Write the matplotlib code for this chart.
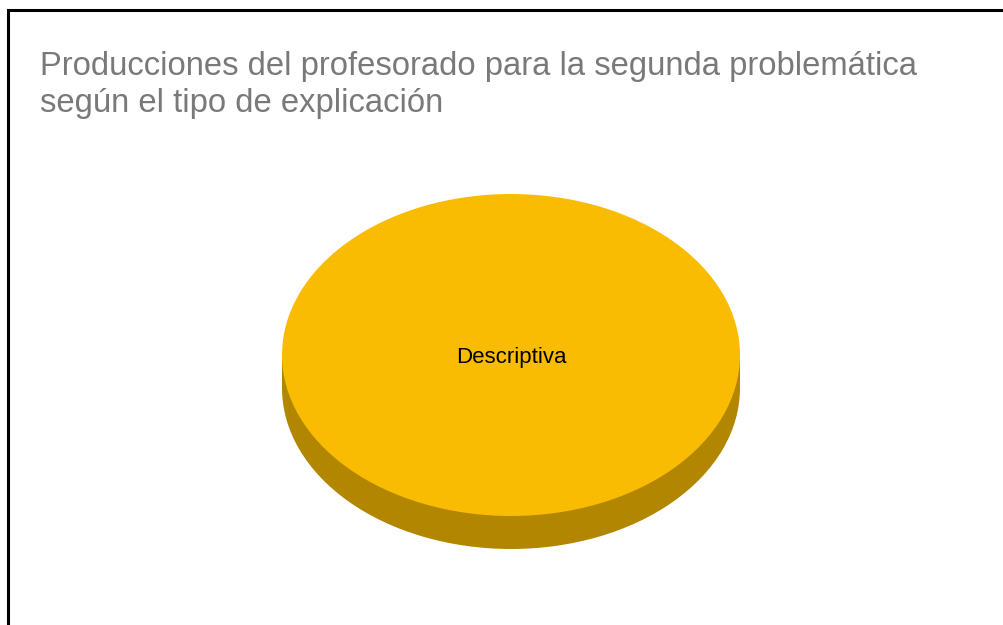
import matplotlib
matplotlib.use("Agg")
import matplotlib.pyplot as plt
from matplotlib.patches import Rectangle

categories = ["Descriptiva"]
values = [100]
top_colors = ["#FABC02"]
side_colors = ["#B38600"]

title = "Producciones del profesorado para la segunda problemática\nsegún el tipo de explicación"

W, H = 1004, 625
fig = plt.figure(figsize=(W / 100, H / 100), dpi=100)
fig.patch.set_facecolor("white")

# axes over whole figure; one data unit = pie half-width in x, half-height in y
rx, ry = 229.0, 161.0
cx, cy = 511.0 / rx, (H - 355.0) / ry
depth = 33.0 / ry

ax = fig.add_axes([0, 0, 1, 1])

# side of the disc
ax.pie(values, colors=side_colors, center=(cx, cy - depth), radius=1,
       startangle=90, counterclock=False, frame=True)
ax.add_patch(Rectangle((cx - 1, cy - depth), 2, depth,
                       facecolor=side_colors[0], edgecolor="none"))
# top face
ax.pie(values, colors=top_colors, center=(cx, cy), radius=1,
       startangle=90, counterclock=False, frame=True)
ax.text(cx, cy - 2.5 / ry, categories[0], ha="center", va="center", fontsize=16,
        family="Liberation Sans", color="black")

ax.set_aspect("auto")
ax.set_xlim(0, W / rx)
ax.set_ylim(0, H / ry)
ax.axis("off")

fig.text(40 / W, 1 - 51 / H, title, ha="left", va="top", fontsize=23.6,
         family="Liberation Sans", color="#797979", linespacing=1.26)

# outer frame (only left and top edges visible)
fig.add_artist(Rectangle((8.5 / W, -0.1), 1.2, 1.1 - 10.5 / H,
                         transform=fig.transFigure, fill=False,
                         edgecolor="black", linewidth=2.2))

fig.savefig("out.png", dpi=100)
